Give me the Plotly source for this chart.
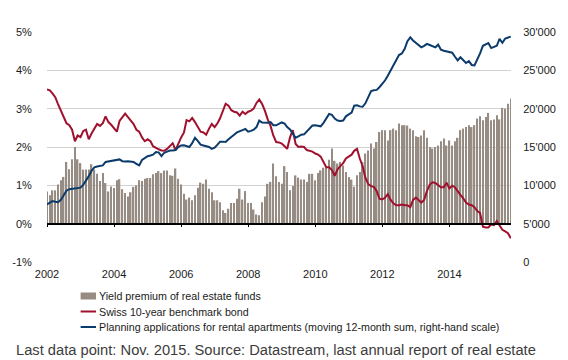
import pandas as pd
import plotly.graph_objects as go

# ---------------- data (monthly, Jan 2002 - Nov 2015) ----------------
months = pd.date_range("2002-01-01", "2015-11-01", freq="MS")

# Yield premium of real estate funds (%, left scale)
premium = [
    0.84, 0.74, 0.87, 0.87, 1.02, 1.13, 1.22, 1.61, 1.42, 1.68, 2.00, 1.68,  # 2002
    1.58, 1.41, 1.41, 1.41, 1.55, 1.41, 1.30, 1.11, 1.32, 1.06, 0.84, 0.97,  # 2003
    0.93, 1.13, 1.16, 0.90, 0.80, 0.71, 0.82, 0.96, 1.00, 1.13, 1.11, 1.17,  # 2004
    1.19, 1.19, 1.29, 1.32, 1.37, 1.32, 1.39, 1.39, 1.26, 1.25, 1.44, 1.17,  # 2005
    1.02, 0.78, 0.63, 0.68, 0.61, 0.74, 0.94, 1.07, 1.04, 1.15, 0.91, 0.82,  # 2006
    0.61, 0.61, 0.56, 0.35, 0.28, 0.39, 0.54, 0.54, 0.65, 0.91, 0.63, 0.85,  # 2007
    0.54, 0.54, 0.37, 0.24, 0.22, 0.56, 0.71, 1.04, 1.09, 1.57, 1.24, 1.09,  # 2008
    1.04, 1.50, 1.35, 0.87, 0.98, 1.26, 1.20, 1.15, 1.15, 1.09, 1.30, 1.30,  # 2009
    1.13, 1.32, 1.39, 1.46, 1.46, 1.67, 1.96, 1.64, 1.57, 1.61, 1.52, 1.35,  # 2010
    1.22, 1.15, 0.96, 1.26, 1.35, 1.61, 1.83, 1.91, 2.09, 1.96, 2.13, 2.39,  # 2011
    2.44, 2.44, 2.17, 2.44, 2.48, 2.44, 2.61, 2.57, 2.57, 2.56, 2.48, 2.44,  # 2012
    2.28, 2.26, 2.30, 2.44, 2.24, 2.00, 1.96, 2.00, 2.04, 2.15, 2.22, 2.04,  # 2013
    2.17, 2.04, 2.15, 2.24, 2.44, 2.48, 2.52, 2.57, 2.52, 2.57, 2.74, 2.80,  # 2014
    2.70, 2.78, 2.89, 2.70, 2.72, 2.83, 2.72, 3.02, 3.00, 3.13, 3.26,        # 2015
]

# Swiss 10-year benchmark bond (%, left scale)
bond = [
    3.50, 3.48, 3.40, 3.30, 3.12, 2.95, 2.80, 2.62, 2.57, 2.45, 2.15, 2.30,  # 2002
    2.26, 2.42, 2.45, 2.20, 2.35, 2.48, 2.60, 2.55, 2.62, 2.80, 2.65, 2.58,  # 2003
    2.50, 2.40, 2.68, 2.78, 2.87, 2.78, 2.68, 2.60, 2.45, 2.40, 2.25, 2.15,  # 2004
    2.20, 2.15, 2.02, 1.97, 1.94, 1.91, 1.90, 1.95, 2.04, 2.10, 1.92, 2.10,  # 2005
    2.25, 2.38, 2.70, 2.67, 2.76, 2.65, 2.52, 2.40, 2.38, 2.32, 2.48, 2.60,  # 2006
    2.52, 2.62, 2.75, 2.93, 3.13, 3.08, 2.96, 2.92, 2.90, 2.82, 2.92, 2.86,  # 2007
    2.92, 2.95, 3.00, 3.15, 3.24, 3.12, 2.95, 2.72, 2.55, 2.30, 2.13, 2.12,  # 2008
    2.09, 2.02, 1.95, 2.25, 2.44, 2.08, 2.00, 2.01, 2.00, 1.92, 1.90, 1.88,  # 2009
    1.83, 1.80, 1.75, 1.60, 1.47, 1.47, 1.40, 1.25, 1.42, 1.50, 1.58, 1.70,  # 2010
    1.76, 1.80, 1.90, 1.95, 1.70, 1.50, 1.20, 1.03, 0.98, 0.96, 0.85, 0.65,  # 2011
    0.63, 0.68, 0.77, 0.62, 0.53, 0.48, 0.48, 0.50, 0.48, 0.48, 0.43, 0.62,  # 2012
    0.68, 0.62, 0.55, 0.62, 0.85, 1.02, 1.08, 1.06, 1.00, 0.95, 0.95, 1.07,  # 2013
    0.92, 0.99, 0.95, 0.83, 0.75, 0.66, 0.55, 0.50, 0.48, 0.43, 0.33, 0.28,  # 2014
    -0.08, -0.10, -0.10, -0.02, -0.04, 0.07, -0.05, -0.16, -0.20, -0.25, -0.38,  # 2015
]

# Planning applications for rental apartments (moving 12-month sum, right scale)
planning = [
    7500, 7700, 7950, 7850, 7800, 8100, 8700, 9300, 9500, 9550, 9550, 9600,
    9700, 10100, 10600, 11200, 11900, 12350, 12450, 12500, 12600, 13050, 13100, 13150,
    13200, 13300, 13380, 13150, 13100, 13150, 13100, 13050, 12800, 12600, 13300, 13550,
    13800, 13900, 14000, 14340, 14300, 13800, 14250, 14400, 14550, 14550, 14600, 15000,
    15200, 15220, 15150, 15000, 15500, 16200, 15800, 15300, 15200, 15100, 15000, 14750,
    14900, 15300, 15700, 15700, 15650, 16000, 16350, 16600, 16900, 17000, 17200, 17350,
    17000, 17100, 17260, 17600, 18450, 18200, 18150, 18150, 18250, 17850, 17830, 18000,
    18200, 18050, 17600, 17300, 16800, 16200, 16400, 16600, 16650, 17000, 17400, 17800,
    17830, 17800, 17700, 18150, 18700, 19300, 19200, 18700, 18450, 18400, 18450, 19000,
    19250, 19500, 20400, 20450, 20300, 20250, 20700, 21500, 22300, 22400, 22450, 22800,
    23200, 23700, 24300, 25000, 25700, 26400, 27000, 27200, 27800, 28800, 29300, 28900,
    28600, 28300, 28000, 28200, 28450, 28300, 28200, 28000, 28350, 27700, 27550, 27500,
    27450, 27300, 26800, 26300, 26700, 26300, 25950, 26200, 25700, 25650, 26400, 27200,
    28200, 28350, 28550, 27900, 28000, 28200, 29100, 28600, 29150, 29300, 29400,
]

year_ticks = ["2002", "2004", "2006", "2008", "2010", "2012", "2014"]
left_ticks = [-1, 0, 1, 2, 3, 4, 5]
left_labels = ["-1%", "0%", "1%", "2%", "3%", "4%", "5%"]
right_ticks = [0, 5000, 10000, 15000, 20000, 25000, 30000]
right_labels = ["0", "5'000", "10'000", "15'000", "20'000", "25'000", "30'000"]

legend_names = [
    "Yield premium of real estate funds",
    "Swiss 10-year benchmark bond",
    "Planning applications for rental apartments (moving 12-month sum, right-hand scale)",
]
caption = "Last data point: Nov. 2015. Source: Datastream, last annual report of real estate"

# ---------------- styling ----------------
C_BAR = "#968c83"
C_RED = "#a0112e"
C_BLUE = "#0b3b6b"
FONT = "Arial, Liberation Sans, sans-serif"
TXT = "#1a1a1a"

W, H = 568, 360
L, R, T, B = 35, 50, 32, 98
PW, PH = W - L - R, H - T - B

def px(x):  # pixel -> paper x
    return (x - L) / PW

def py(y):  # pixel -> paper y
    return (H - B - y) / PH

xr = ["2002-01-01", "2015-11-03"]
CLEAR = "rgba(0,0,0,0)"

fig = go.Figure()
fig.add_trace(go.Bar(x=months, y=premium, marker=dict(color=C_BAR, line_width=0),
                     name=legend_names[0], yaxis="y", xaxis="x"))
fig.add_trace(go.Scatter(x=months, y=bond, mode="lines", line=dict(color=C_RED, width=2),
                         name=legend_names[1], yaxis="y", xaxis="x"))
fig.add_trace(go.Scatter(x=months, y=planning, mode="lines", line=dict(color=C_BLUE, width=2),
                         name=legend_names[2], yaxis="y2", xaxis="x"))

fig.update_layout(
    width=W, height=H,
    margin=dict(l=L, r=R, t=T, b=B, pad=0),
    paper_bgcolor="white", plot_bgcolor="white",
    showlegend=False,
    bargap=0.42,
    font=dict(family=FONT, size=11, color=TXT),
    xaxis=dict(
        type="date", range=xr,
        tickmode="array", tickvals=[f"{y}-01-01" for y in year_ticks], ticktext=year_ticks,
        showgrid=False, zeroline=False, showline=False,
        ticks="outside", ticklen=2, tickcolor=CLEAR,
        tickfont=dict(family=FONT, size=11, color=TXT),
    ),
    xaxis2=dict(
        type="date", range=xr, overlaying="x", anchor="free", position=1/6,
        tickmode="array", tickvals=[f"{y}-01-01" for y in year_ticks],
        showticklabels=False, showgrid=False, zeroline=False,
        showline=True, linecolor="#000000", linewidth=1.5,
        ticks="outside", ticklen=3, tickcolor="#000000", tickwidth=1,
    ),
    yaxis=dict(
        range=[-1, 5], tickmode="array", tickvals=left_ticks, ticktext=left_labels,
        showgrid=True, gridcolor="#d2d2d2", gridwidth=1, zeroline=False, showline=False,
        ticks="outside", ticklen=12, tickcolor=CLEAR,
        tickfont=dict(family=FONT, size=11, color=TXT),
    ),
    yaxis2=dict(
        range=[0, 30000], overlaying="y", side="right",
        tickmode="array", tickvals=right_ticks, ticktext=right_labels,
        showgrid=False, zeroline=False, showline=False,
        ticks="outside", ticklen=9, tickcolor=CLEAR,
        tickfont=dict(family=FONT, size=11, color=TXT),
    ),
)

# invisible helper trace so the zero-line axis (xaxis2) is drawn
fig.add_trace(go.Scatter(x=[months[0]], y=[0], xaxis="x2", yaxis="y", mode="markers",
                         marker=dict(opacity=0), hoverinfo="skip", showlegend=False))

# ---------------- manual legend ----------------
rows = [296, 311.5, 327]
sym_x0, sym_x1, txt_x = 70, 86, 87
shapes = [
    dict(type="rect", xref="paper", yref="paper", x0=px(sym_x0), x1=px(sym_x1),
         y0=py(rows[0] + 3.5), y1=py(rows[0] - 3.5), fillcolor=C_BAR, line_width=0),
    dict(type="line", xref="paper", yref="paper", x0=px(sym_x0), x1=px(sym_x1),
         y0=py(rows[1]), y1=py(rows[1]), line=dict(color=C_RED, width=2)),
    dict(type="line", xref="paper", yref="paper", x0=px(sym_x0), x1=px(sym_x1),
         y0=py(rows[2]), y1=py(rows[2]), line=dict(color=C_BLUE, width=2)),
]
annotations = []
for name, ry in zip(legend_names, rows):
    annotations.append(dict(text=name, xref="paper", yref="paper", x=px(txt_x), y=py(ry),
                            xanchor="left", yanchor="middle", showarrow=False,
                            font=dict(family=FONT, size=10.7, color=TXT)))
annotations.append(dict(text=caption, xref="paper", yref="paper", x=px(1), y=py(350),
                        xanchor="left", yanchor="middle", showarrow=False,
                        font=dict(family=FONT, size=14.7, color="#3c3c3c")))
fig.update_layout(shapes=shapes, annotations=annotations)

fig.write_html("out.html", config={"displayModeBar": False},
               post_script="document.body.style.margin='0';")
